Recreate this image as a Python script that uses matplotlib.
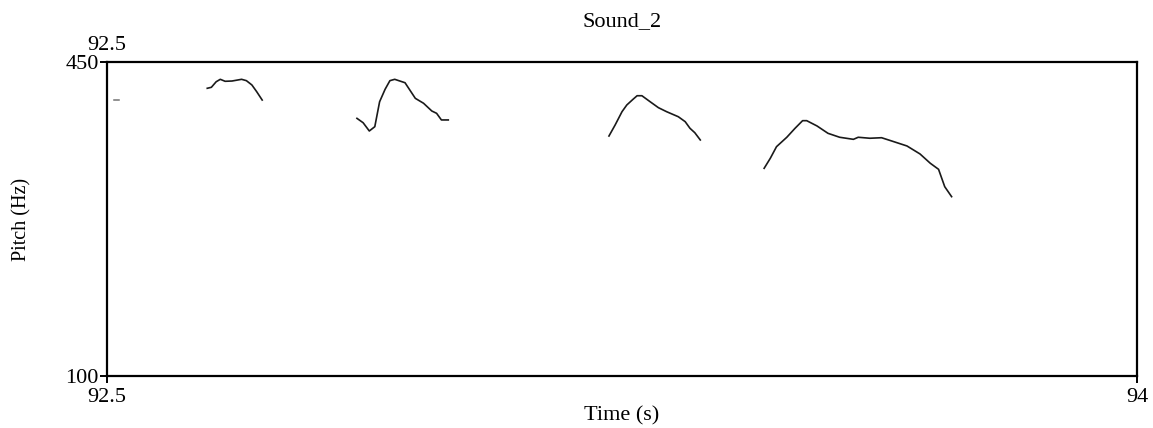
import matplotlib
matplotlib.use("Agg")
import matplotlib.pyplot as plt
import numpy as np

plt.rcParams['font.family'] = ['Liberation Serif', 'DejaVu Serif']

#### PITCH CONTOURS (time s, pitch Hz)
t0 = [92.510, 92.5175]
f0 = [407.6, 407.6]

t1 = [92.646, 92.652, 92.659, 92.665, 92.672, 92.682, 92.696, 92.703, 92.711, 92.718, 92.726]
f1 = [420.7, 421.8, 428.0, 430.7, 428.5, 428.8, 430.7, 429.2, 424.4, 416.9, 407.6]

t2 = [92.864, 92.873, 92.882, 92.890, 92.897, 92.905, 92.912, 92.919, 92.934, 92.949,
      92.961, 92.973, 92.980, 92.987, 92.997]
f2 = [387.2, 382.3, 373.1, 377.9, 405.7, 419.6, 429.2, 430.7, 426.9, 409.5,
      404.0, 395.4, 392.8, 385.4, 385.4]

t3 = [93.231, 93.240, 93.250, 93.257, 93.266, 93.272, 93.279, 93.291, 93.303, 93.315,
      93.332, 93.342, 93.349, 93.356, 93.364]
f3 = [367.5, 379.8, 394.6, 402.1, 408.4, 412.4, 412.4, 405.7, 399.1, 394.6,
      389.0, 383.5, 376.1, 371.2, 363.1]

t4 = [93.457, 93.466, 93.475, 93.490, 93.502, 93.513, 93.519, 93.534, 93.550, 93.567,
      93.587, 93.594, 93.611, 93.628, 93.643, 93.665, 93.684, 93.699, 93.711, 93.720, 93.730]
f4 = [331.5, 342.7, 355.6, 366.1, 376.1, 384.6, 384.6, 378.7, 370.5, 366.1,
      363.8, 366.1, 365.0, 365.6, 361.9, 356.4, 347.5, 337.1, 330.4, 311.0, 299.9]

tmin, tmax = 92.5, 94
fmin, fmax = 100, 450
title = "Sound_2"

#### PLOT
fig = plt.figure(figsize=(11.53, 4.28), dpi=100)
ax = fig.add_axes([107 / 1153, 52 / 428, 1030 / 1153, 314 / 428])

ax.plot(t0, f0, color='0.45', lw=1.1)
for t, f in [(t1, f1), (t2, f2), (t3, f3), (t4, f4)]:
    ax.plot(t, f, color='0.1', lw=1.2)

ax.set_xlim(tmin, tmax)
ax.set_ylim(fmin, fmax)

for s in ax.spines.values():
    s.set_linewidth(1.6)

ax.set_yticks([fmin, fmax])
ax.set_yticklabels(["100", "450"], fontsize=16)
ax.set_xticks([tmin, tmax])
ax.set_xticklabels(["92.5", "94"], fontsize=16)
ax.tick_params(axis='both', direction='out', length=5, width=1.4, pad=1)
ax.tick_params(axis='x', pad=4)

# Praat puts the start time above the top-left corner as well
ax.annotate("92.5", xy=(tmin, fmax), xytext=(0, 5), textcoords='offset points',
            fontsize=16, ha='center', va='bottom')

ax.set_xlabel("Time (s)", fontsize=16)
ax.xaxis.label.set_va('center')
ax.xaxis.set_label_coords(0.5, -40 / 314)
ax.set_ylabel("Pitch (Hz)", fontsize=14.5)
ax.yaxis.label.set_va('center')
ax.yaxis.set_label_coords(-85 / 1030, 0.5)

ax.text(0.5, 1 + 40 / 314, title, fontsize=16, ha='center', va='center',
        transform=ax.transAxes)

fig.savefig("out.png", dpi=100)
